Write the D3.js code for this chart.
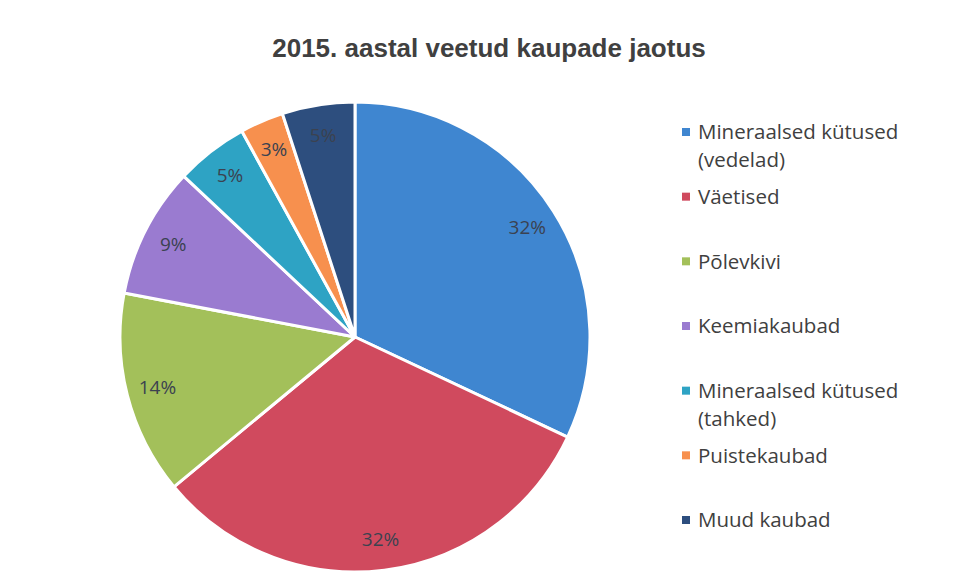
<!DOCTYPE html>
<html>
<head>
<meta charset="utf-8">
<script src="https://cdn.jsdelivr.net/npm/d3@7"></script>
<style>
  body { margin: 0; background: #fff; }
  svg { display: block; }
</style>
</head>
<body>
<div id="chart"></div>
<script>
const categories = [
  ["Mineraalsed kütused", "(vedelad)"],
  ["Väetised"],
  ["Põlevkivi"],
  ["Keemiakaubad"],
  ["Mineraalsed kütused", "(tahked)"],
  ["Puistekaubad"],
  ["Muud kaubad"],
];
const shares = [32, 32, 14, 9, 5, 3, 5];
const colors = ["#3f86d0", "#d04a5e", "#a3c05a", "#9a7bd0", "#2ea3c4", "#f7904e", "#2d4e7e"];
const title = "2015. aastal veetud kaupade jaotus";

const width = 953, height = 586;
const cx = 355, cy = 337, radius = 235;

const svg = d3.select("#chart")
  .append("svg")
  .attr("width", width)
  .attr("height", height);

svg.append("text")
  .attr("x", 489)
  .attr("y", 57)
  .attr("text-anchor", "middle")
  .style("font-family", "'Liberation Sans', Arial, sans-serif")
  .style("font-weight", "bold")
  .style("font-size", "26px")
  .style("fill", "#404040")
  .text(title);

const data = shares.map((v, i) => ({ name: categories[i], value: v, color: colors[i] }));

const pie = d3.pie().sort(null).value((d) => d.value);
const arcs = pie(data);

const arc = d3.arc().innerRadius(0).outerRadius(radius);
const labelArc = d3.arc().innerRadius(204).outerRadius(204);

const g = svg.append("g").attr("transform", `translate(${cx},${cy})`);

g.selectAll("path")
  .data(arcs)
  .enter()
  .append("path")
  .attr("d", arc)
  .attr("fill", (d) => d.data.color)
  .attr("stroke", "#fff")
  .attr("stroke-width", 3)
  .attr("stroke-linejoin", "round");

g.selectAll(".pct")
  .data(arcs)
  .enter()
  .append("text")
  .attr("class", "pct")
  .attr("transform", (d) => `translate(${labelArc.centroid(d)})`)
  .attr("text-anchor", "middle")
  .attr("dy", "0.35em")
  .style("font-family", "'Open Sans', sans-serif")
  .style("font-size", "19px")
  .style("fill", "#3b4250")
  .text((d) => `${d.data.value}%`);

// legend
const legendY = d3.scalePoint()
  .domain(d3.range(data.length))
  .range([132, 520]);

const legend = svg.append("g").attr("class", "legend");

const items = legend.selectAll(".legend-item")
  .data(data)
  .enter()
  .append("g")
  .attr("class", "legend-item")
  .attr("transform", (d, i) => `translate(682, ${legendY(i)})`);

items.append("rect")
  .attr("x", 0)
  .attr("y", -4)
  .attr("width", 8)
  .attr("height", 8)
  .attr("fill", (d) => d.color);

items.each(function (d) {
  const t = d3.select(this).append("text")
    .attr("x", 16)
    .attr("y", 0)
    .style("font-family", "'Open Sans', sans-serif")
    .style("font-size", "20.5px")
    .style("fill", "#404040");
  d.name.forEach((line, j) => {
    t.append("tspan")
      .attr("x", 16)
      .attr("dy", j === 0 ? "0.35em" : "1.37em")
      .text(line);
  });
});
</script>
</body>
</html>
